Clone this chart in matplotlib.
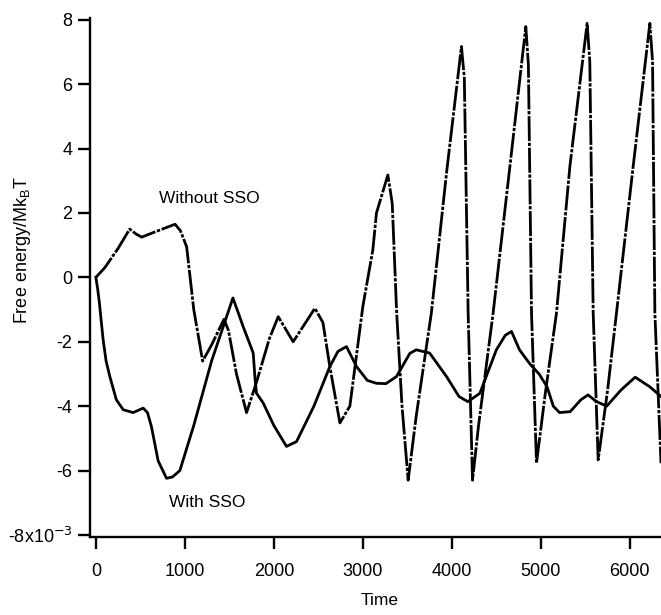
import numpy as np
import matplotlib
matplotlib.use('Agg')
import matplotlib.pyplot as plt

plt.rcParams['font.family'] = ['Liberation Sans', 'DejaVu Sans']

# Without SSO (dash-dot curve)
without_x = [0, 100, 250, 380, 450, 515, 700, 890, 950, 1020, 1100, 1200, 1300, 1440,
             1490, 1580, 1693, 1800, 1950, 2049, 2217, 2461, 2551, 2629, 2742, 2854,
             3000, 3112, 3153, 3281, 3330, 3380, 3440, 3509, 3600, 3770, 3940, 4108,
             4140, 4183, 4232, 4300, 4464, 4652, 4831, 4860, 4895, 4951, 5050, 5176,
             5326, 5520, 5550, 5588, 5644, 5750, 5850, 6037, 6225, 6255, 6281, 6350]
without_y = [0, 0.3, 0.9, 1.5, 1.35, 1.25, 1.45, 1.65, 1.45, 0.95, -1.0, -2.6, -2.1, -1.3,
             -1.65, -3.0, -4.2, -3.3, -1.9, -1.22, -2.0, -0.96, -1.4, -2.77, -4.52, -4.0,
             -0.9, 0.85, 2.0, 3.18, 2.3, -1.1, -4.0, -6.3, -4.3, -1.1, 3.24, 7.17,
             6.2, -1.1, -6.3, -4.6, -1.1, 3.44, 7.79, 6.6, -1.1, -5.77, -3.6, -1.1,
             3.44, 7.89, 6.7, -1.1, -5.67, -3.5, -1.1, 3.44, 7.89, 6.7, -1.1, -5.77]

# With SSO (solid curve)
with_x = [0, 20, 40, 60, 82, 115, 157, 230, 307, 419, 532, 580, 624, 700, 794, 860, 944,
          1100, 1300, 1540, 1600, 1655, 1720, 1768, 1790, 1805, 1880, 2000, 2142, 2255,
          2450, 2629, 2720, 2816, 2929, 3050, 3153, 3260, 3378, 3528, 3600, 3750, 3940,
          4080, 4180, 4315, 4500, 4600, 4670, 4760, 4880, 4980, 5070, 5140, 5210, 5330,
          5450, 5530, 5620, 5740, 5900, 6060, 6225, 6350]
with_y = [0, -0.35, -0.8, -1.35, -1.94, -2.6, -3.08, -3.8, -4.11, -4.2, -4.06, -4.2, -4.63,
          -5.7, -6.24, -6.2, -6.0, -4.6, -2.6, -0.64, -1.1, -1.53, -2.0, -2.35, -3.2, -3.6,
          -3.9, -4.6, -5.25, -5.1, -4.0, -2.77, -2.3, -2.15, -2.77, -3.2, -3.29, -3.3,
          -3.08, -2.36, -2.25, -2.35, -3.08, -3.7, -3.86, -3.6, -2.25, -1.8, -1.68, -2.25,
          -2.7, -3.0, -3.4, -4.0, -4.2, -4.17, -3.8, -3.65, -3.85, -4.0, -3.5, -3.1, -3.4,
          -3.7]

x_ticks = [0, 1000, 2000, 3000, 4000, 5000, 6000]
y_ticks = [-8, -6, -4, -2, 0, 2, 4, 6, 8]
y_ticklabels = ['-8x10$^{-3}$', '-6', '-4', '-2', '0', '2', '4', '6', '8']

fig = plt.figure(figsize=(6.61, 6.15), dpi=100)
ax = fig.add_axes([0.136, 0.127, 0.864, 0.844])

ax.plot(with_x, with_y, color='black', lw=2.0, solid_joinstyle='round')
ax.plot(without_x, without_y, color='black', lw=2.0,
        linestyle=(0, (9, 0.6, 1.2, 0.6)))

ax.text(1280, 2.44, 'Without SSO', fontsize=12.5, ha='center', va='center')
ax.text(1250, -7.0, 'With SSO', fontsize=12.5, ha='center', va='center')

ax.set_xlim(-67, 6350)
ax.set_ylim(-8.06, 8.06)
ax.set_xticks(x_ticks)
ax.set_yticks(y_ticks)
ax.set_yticklabels(y_ticklabels)

for s in ['top', 'right']:
    ax.spines[s].set_visible(False)
for s in ['left', 'bottom']:
    ax.spines[s].set_linewidth(1.7)

ax.tick_params(axis='both', direction='out', length=8.5, width=1.7, labelsize=13)
ax.tick_params(axis='y', pad=4)
ax.tick_params(axis='x', pad=10)

ax.set_xlabel('Time', fontsize=12.5)
ax.set_ylabel('Free energy/Mk$_\\mathregular{B}$T', fontsize=13)
ax.xaxis.set_label_coords(0.508, -0.108)
ax.yaxis.set_label_coords(-0.1, 0.553)

fig.savefig('out.png', dpi=100)
